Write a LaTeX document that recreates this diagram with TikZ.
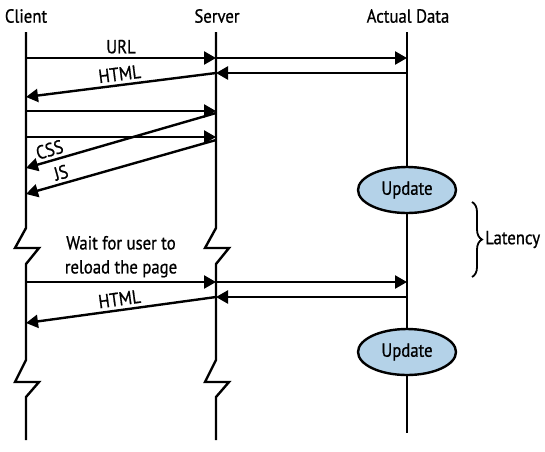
\documentclass[tikz,border=0pt]{standalone}
\usepackage{fontspec}
\setmainfont{PT Sans}[FakeStretch=0.88,FakeBold=0.8]
\usetikzlibrary{arrows.meta,positioning,shapes.geometric,decorations.pathreplacing}
\definecolor{updblue}{RGB}{180,210,232}
\tikzset{
	lifeline/.style={line width=2.4pt},
	msg/.style={line width=2.4pt,-{Triangle[length=12pt,width=13pt]}},
	update/.style={ellipse,draw,line width=2.4pt,fill=updblue,minimum width=98pt,minimum height=46pt,inner sep=0pt},
	latency_brace/.style={decorate,decoration={brace,amplitude=10pt},line width=1.8pt}
}
\begin{document}
\begin{tikzpicture}[x=1pt,y=-1pt,font=\fontsize{19}{24}\selectfont]
	\useasboundingbox (0,0) rectangle (545,451);
	\node (client) at (26,16) {Client};
	\node (server) at (217,16) {Server};
	\node (actual_data) at (408,16) {Actual Data};
	\foreach \y in {58,97,111,137,168,194,282,323} \coordinate (c\y) at (26,\y);
	\foreach \y in {58,73,111,113,137,140,282,297} \coordinate (s\y) at (216,\y);
	\foreach \y in {58,73,282,297} \coordinate (a\y) at (407,\y);
	\foreach \x in {26,216}
	  \draw[lifeline] (\x,32) -- ++(0,196) -- ++(-11,20) -- ++(24,0) -- ++(-13,16)
	    -- ++(0,96) -- ++(-11,22) -- ++(24,0) -- ++(-13,15) -- (\x,440);
	\node[update] (update_one) at (407,190) {Update};
	\node[update] (update_two) at (407,352) {Update};
	\draw[lifeline] (407,32) -- (update_one) -- (update_two) -- (407,433);
	\draw[msg] (c58) -- node[above] (url) {URL} (s58);
	\draw[msg] (s58) -- (a58);
	\draw[msg] (a73) -- (s73);
	\draw[msg] (s73) -- node[sloped,above] (html_one) {HTML} (c97);
	\draw[msg] (c111) -- (s111);
	\draw[msg] (s113) -- node[sloped,above,pos=0.86,inner sep=3pt] (css) {CSS} (c168);
	\draw[msg] (c137) -- (s137);
	\draw[msg] (s140) -- node[sloped,above,pos=0.8,inner sep=3pt] (js) {JS} (c194);
	\draw[msg] (c282) -- node[above,align=center] (wait) {Wait for user to\\reload the page} (s282);
	\draw[msg] (s282) -- (a282);
	\draw[msg] (a297) -- (s297);
	\draw[msg] (s297) -- node[sloped,above] (html_two) {HTML} (c323);
	\coordinate (brace_top) at (472,202);
	\coordinate (brace_bot) at (472,277);
	\draw[latency_brace] (brace_top) -- (brace_bot) node[midway,right=9pt] (latency) {Latency};
\end{tikzpicture}
\end{document}
